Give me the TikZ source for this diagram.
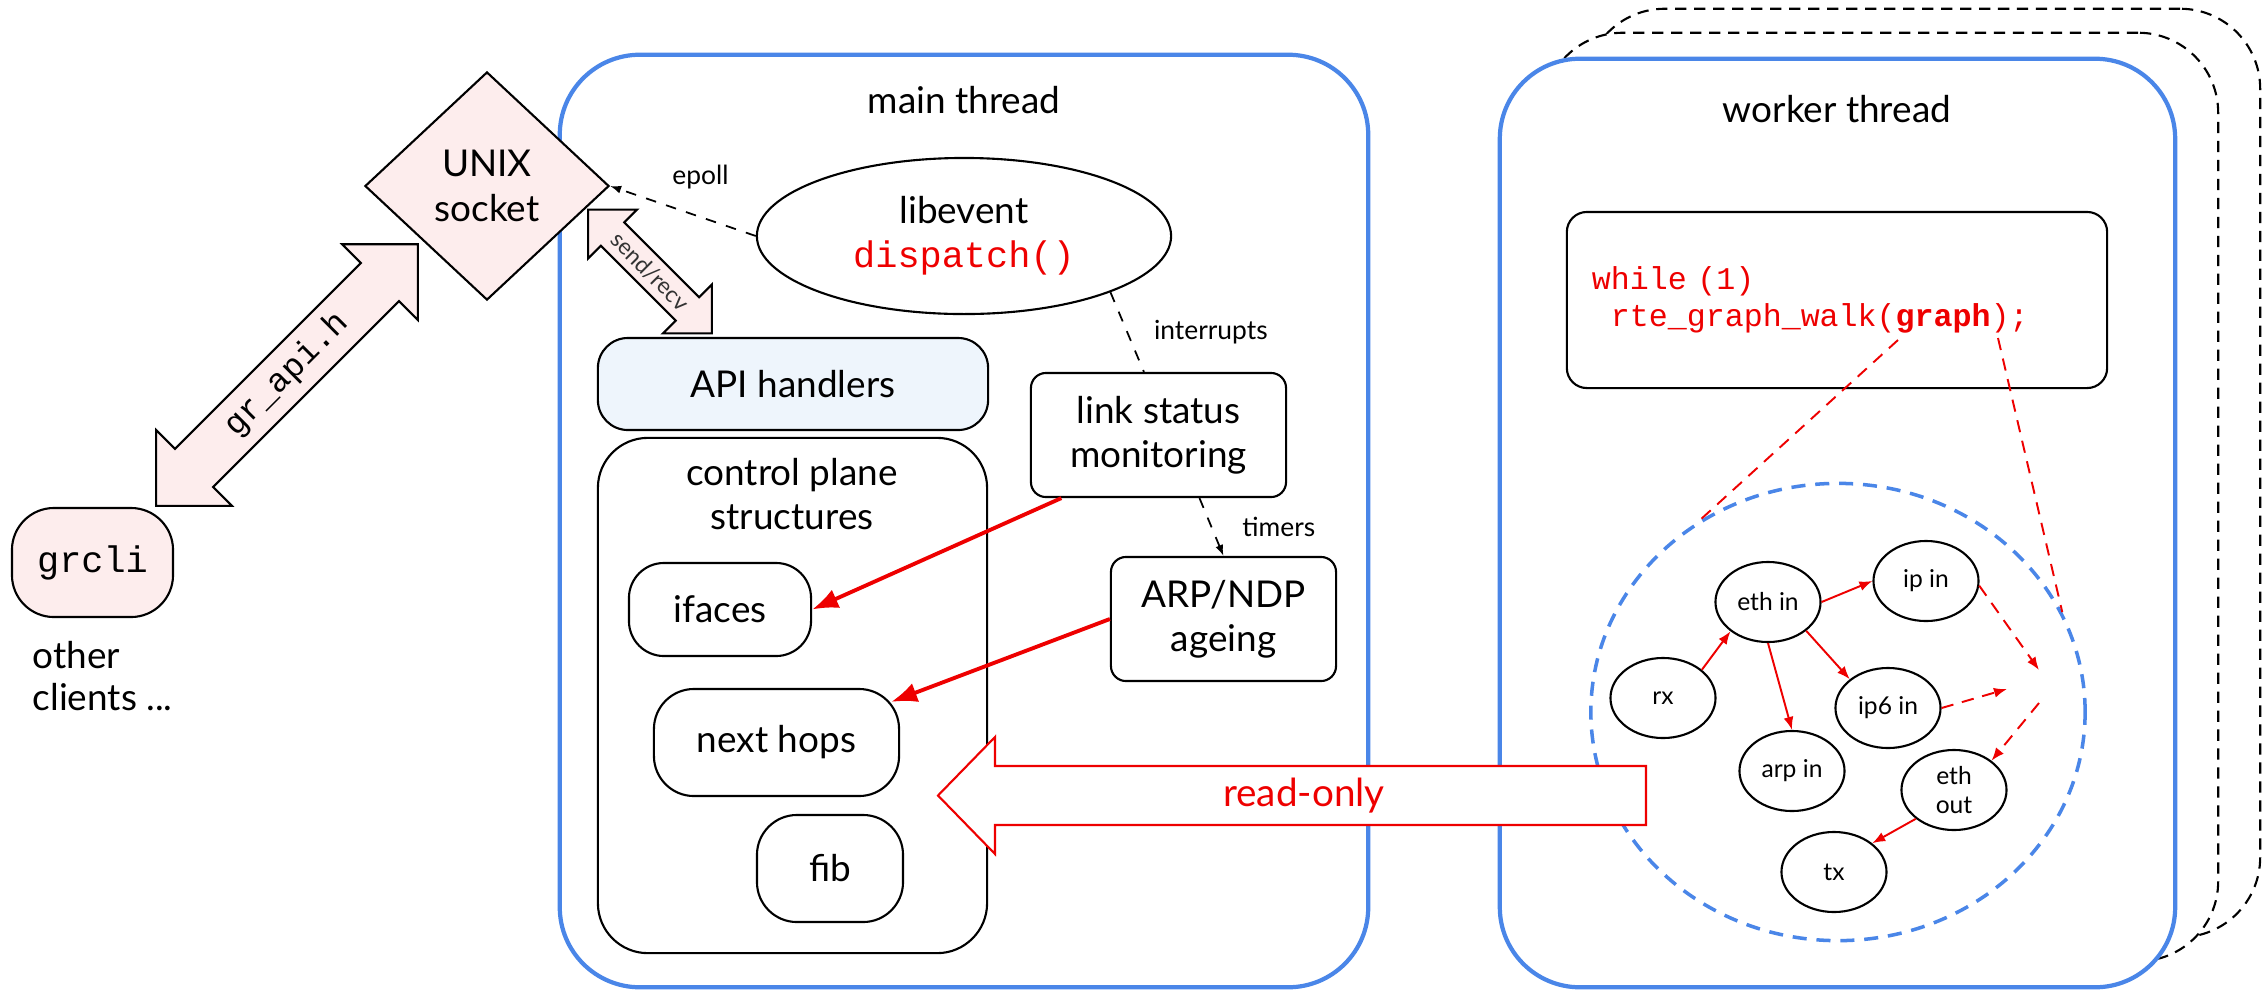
\documentclass[tikz,border=0pt]{standalone}
\usepackage{fontspec}
\setmainfont{Lato}
\setmonofont{Liberation Mono}
\usepackage{xcolor}
\usepackage{tikz}
\usetikzlibrary{arrows.meta}
\usetikzlibrary{shapes.geometric}

\definecolor{threadblue}{HTML}{4A86E8}
\definecolor{sockpink}{HTML}{FDEDED}
\definecolor{apiblue}{HTML}{EEF5FC}
\definecolor{codered}{HTML}{EE0000}

\newcommand{\txtbig}{\fontsize{10.5}{12.6}\selectfont}
\newcommand{\txtlbl}{\fontsize{7.5}{9}\selectfont}
\newcommand{\txtnode}{\fontsize{7}{8.4}\selectfont}
\newcommand{\txttiny}{\fontsize{6.5}{7.5}\selectfont}
%% double headed arrow: half length, head length, half shaft
\newcommand{\twoway}[3]{(-#1,0) -- (-#1+#2,#2) -- (-#1+#2,#3) -- (#1-#2,#3) -- (#1-#2,#2) -- (#1,0) -- (#1-#2,-#2) -- (#1-#2,-#3) -- (-#1+#2,-#3) -- (-#1+#2,-#2) -- cycle}

\tikzset{
  thread/.style={draw=threadblue, line width=1.2pt, fill=white, rounded corners=0.8cm, inner sep=0},
  stack/.style={draw=black, dash pattern=on 3.2pt off 2.2pt, line width=0.6pt, fill=white, rounded corners=0.8cm, inner sep=0},
  box/.style={draw=black, line width=0.6pt, fill=white, align=center, inner sep=0, font=\txtbig},
  gnode/.style={ellipse, draw=black, line width=0.6pt, fill=white, minimum width=1.05cm, minimum height=0.8cm, inner sep=0, align=center, font=\txtnode},
  pipe/.style={draw=black, line width=0.6pt, fill=sockpink},
  lbl/.style={inner sep=0, font=\txtlbl},
  hintline/.style={black, dashed, line width=0.5pt},
  hintarrow/.style={hintline, -{Latex[length=0.11cm, width=0.08cm]}},
  feed/.style={codered, line width=1.1pt, -{Latex[length=0.26cm, width=0.2cm]}},
  flow/.style={codered, line width=0.55pt, -{Latex[length=0.13cm, width=0.1cm]}},
  flowdash/.style={flow, dash pattern=on 3.5pt off 2.5pt},
  zoomline/.style={codered, line width=0.55pt, dash pattern=on 3.5pt off 2.5pt}
}

\begin{document}
\begin{tikzpicture}[x=0.01cm, y=-0.01cm]
\useasboundingbox (0,0) rectangle (2262,990);

%% main thread
\node[thread, minimum width=8.08cm, minimum height=9.32cm] (main) at (964,521) {};
\node[font=\txtbig] (maintitle) at (964,100) {main thread};

%% worker threads, stacked
\node[stack, minimum width=6.75cm, minimum height=9.28cm] (worker3) at (1922.5,473) {};
\node[stack, minimum width=6.75cm, minimum height=9.28cm] (worker2) at (1880.5,497) {};
\node[thread, minimum width=6.75cm, minimum height=9.28cm] (worker) at (1837.5,523) {};
\node[font=\txtbig] (workertitle) at (1837,109) {worker thread};

%% clients and socket
\node[diamond, draw=black, line width=0.6pt, fill=sockpink, minimum width=2.44cm, minimum height=2.28cm, inner sep=0, align=center, font=\txtbig] (sock) at (487,186) {UNIX\\socket};
\node[box, fill=sockpink, rounded corners=0.42cm, minimum width=1.61cm, minimum height=1.09cm, font=\ttfamily\fontsize{10.5}{12}\selectfont] (grcli) at (92.5,562.5) {grcli};
\node[align=left, anchor=west, inner sep=0, font=\fontsize{10.5}{11.8}\selectfont] (others) at (32,676) {other\\clients ...};

\begin{scope}[shift={(287,375)}, rotate=45]
  \draw[pipe] \twoway{185}{53.5}{27};
\end{scope}
\node[rotate=45, inner sep=0, font=\ttfamily\fontsize{9.5}{11}\selectfont] (grapi) at (287,375) {gr\_api.h};

\begin{scope}[shift={(650,271.5)}, rotate=-45]
  \draw[pipe] \twoway{87.5}{34.6}{16.5};
\end{scope}
\node[rotate=-45, inner sep=0, font=\txttiny, text=black!80] (sendrecv) at (650,271.5) {send/recv};

%% main thread content
\node[ellipse, draw=black, line width=0.6pt, fill=white, minimum width=4.14cm, minimum height=1.56cm, inner sep=0, align=center, font=\txtbig] (libevent) at (964,236) {libevent\\\textcolor{codered}{\ttfamily dispatch()}};
\node[box, fill=apiblue, rounded corners=0.3cm, minimum width=3.9cm, minimum height=0.92cm] (api) at (793,384) {API handlers};
\node[box, rounded corners=0.5cm, minimum width=3.89cm, minimum height=5.15cm] (cplane) at (792.5,695.5) {};
\node[font=\txtbig, align=center] (cptitle) at (792,494) {control plane\\structures};
\node[box, rounded corners=0.35cm, minimum width=1.82cm, minimum height=0.93cm] (ifaces) at (720,609.5) {ifaces};
\node[box, rounded corners=0.4cm, minimum width=2.45cm, minimum height=1.07cm] (nexthops) at (776.5,742.5) {next hops};
\node[box, rounded corners=0.4cm, minimum width=1.46cm, minimum height=1.07cm] (fib) at (830,868.5) {fib};
\node[box, rounded corners=0.15cm, minimum width=2.55cm, minimum height=1.24cm] (link) at (1158.5,435) {link status\\monitoring};
\node[box, rounded corners=0.15cm, minimum width=2.25cm, minimum height=1.24cm] (arp) at (1223.5,619) {ARP/NDP\\ageing};

\draw[hintarrow] (libevent.west) -- node[pos=0.38, above=0.27cm, lbl] {epoll} (sock.east);
\draw[hintline] (libevent.-21) -- node[midway, right=0.26cm, lbl] {interrupts} (link.103);
\draw[hintarrow] (link.-57) -- node[midway, right=0.3cm, lbl] {timers} (arp.north);
\draw[feed] (link.213) -- (ifaces.east);
\draw[feed] (arp.west) -- ([shift={(-9,14)}]nexthops.north east);

%% worker thread content
\node[box, rounded corners=0.2cm, minimum width=5.4cm, minimum height=1.76cm, text width=4.9cm, align=left, text=codered, font=\ttfamily\fontsize{9}{10.5}\selectfont] (loop) at (1837,300) {while (1)\\\hspace*{0.6em}rte\_graph\_walk(\textbf{graph});};
\coordinate (graphl) at (1898,340);
\coordinate (graphr) at (1998,338);

\node[ellipse, draw=threadblue, line width=1pt, dash pattern=on 4pt off 2.8pt, minimum width=4.94cm, minimum height=4.57cm, inner sep=0] (graphzone) at (1838,712) {};
\draw[zoomline] (graphl) -- (graphzone.126);
\draw[zoomline] (graphr) -- (graphzone.24);

%% read-only access
\draw[codered, line width=0.6pt, fill=white] (1646,766) -- (995,766) -- (995,737) -- (938,795.5) -- (995,854) -- (995,825) -- (1646,825) -- cycle;
\node[text=codered, inner sep=0, font=\fontsize{11}{13}\selectfont] (readonly) at (1304,796) {read-only};

%% graph nodes
\foreach \name/\x/\y/\txt in {rx/1663/698/rx, ethin/1768/602/eth in, ipin/1926/581/ip in, ipsix/1888/708/ip6 in, arpin/1792/771/arp in, ethout/1954/790/{eth\\out}, tx/1834/872/tx}
  \node[gnode] (\name) at (\x,\y) {\txt};
\foreach \a/\b in {rx.36/ethin.218, ethin.east/ipin.west, ethin.-37/ipsix.143, ethin.south/arpin.north, ethout.217/tx.37}
  \draw[flow] (\a) -- (\b);
\coordinate (ipnext) at (2039,670);
\coordinate (ipsixnext) at (2007,689);
\coordinate (ethoutprev) at (2039,703);
\draw[flowdash] (ipin.-5) -- (ipnext);
\draw[flowdash] (ipsix.east) -- (ipsixnext);
\draw[flowdash] (ethoutprev) -- (ethout.38);
\end{tikzpicture}
\end{document}
